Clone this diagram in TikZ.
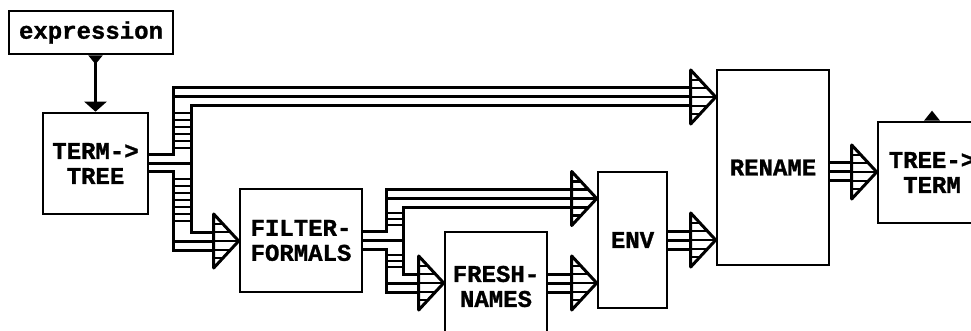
\documentclass[tikz,border=0pt]{standalone}
\usepackage{fontspec}
\setmonofont{Liberation Mono}[BoldFeatures={FakeBold=1.2}]
\usetikzlibrary{arrows.meta}

\tikzset{
  block/.style={draw, line width=2.6pt, align=center, inner sep=0pt,
    font=\ttfamily\bfseries\fontsize{24}{25}\selectfont},
  rail/.style={line width=3pt},
  rung/.style={line width=2.6pt},
}

\begin{document}
\begin{tikzpicture}[x=1pt,y=-1pt]
        \useasboundingbox (0,0) rectangle (971,331);
        \clip (0,0) rectangle (971,331);

        % Blocks
        \node[block, minimum width=164pt, minimum height=43pt] (expr) at (91,32.5) {expression};
        \node[block, minimum width=105pt, minimum height=101pt] (t2t) at (95.5,163.5) {TERM->\\TREE};
        \node[block, minimum width=122pt, minimum height=103pt] (filter) at (301,240.5) {FILTER-\\FORMALS};
        \node[block, minimum width=102pt, minimum height=109pt] (fresh) at (496,286.5) {FRESH-\\NAMES};
        \node[block, minimum width=69pt, minimum height=136pt] (env) at (632.5,240) {ENV};
        \node[block, minimum width=112pt, minimum height=195pt] (rename) at (773,167.5) {RENAME};
        \node[block, minimum width=108pt, minimum height=101pt] (tree2term) at (932,172.5) {TREE->\\TERM};

        % Single connector
        \draw[line width=2.6pt, {Triangle[reversed,width=14pt,length=9pt]}-{Triangle[width=22pt,length=10pt]}]
            (t2t.north |- expr.south) -- (t2t.north);
        \fill (tree2term.north) +(-8,0) -- +(0,-10) -- +(8,0) -- cycle;

        % Arrow tips of the buses
        \coordinate (inRenameA) at (rename.west |- 0,97);
        \coordinate (inRenameB) at (rename.west |- 0,240);
        \coordinate (inFilter) at (filter.west |- 0,241);
        \coordinate (inEnvA) at (env.west |- 0,198.5);
        \coordinate (inEnvB) at (env.west |- 0,283);
        \coordinate (inFresh) at (fresh.west |- 0,283);
        \coordinate (inTreeTerm) at (tree2term.west |- 0,172);

        % Bus out of TERM->TREE
        \draw[rail] (t2t.east |- 0,155) -- (173,155) -- (173,88) -- (692,88);
        \draw[rail] (t2t.east |- 0,172) -- (173,172) -- (173,250) -- (215,250);
        \draw[rail] (692,106) -- (191,106) -- (191,232) -- (215,232);
        \draw[rail] (173,97) -- (692,97);
        \draw[rail] (t2t.east |- 0,163.5) -- (191,163.5);
        \draw[rail] (173,241) -- (215,241);
        \foreach \y in {113,120,...,148,179,186,...,225}
            \draw[rung] (173,\y) -- (191,\y);

        % Bus out of FILTER-FORMALS
        \draw[rail] (filter.east |- 0,231) -- (386,231) -- (386,190) -- (573,190);
        \draw[rail] (filter.east |- 0,249) -- (386,249) -- (386,292) -- (420,292);
        \draw[rail] (573,207) -- (403,207) -- (403,274) -- (420,274);
        \draw[rail] (386,198.5) -- (573,198.5);
        \draw[rail] (filter.east |- 0,240) -- (403,240);
        \draw[rail] (386,283) -- (420,283);
        \foreach \y in {213,219,225,255,261,267}
            \draw[rung] (386,\y) -- (403,\y);

        % Short buses
        \foreach \y in {274,283,292}
            \draw[rail] (fresh.east |- 0,\y) -- (573,\y);
        \foreach \y in {231,240,249}
            \draw[rail] (env.east |- 0,\y) -- (692,\y);
        \foreach \y in {163,172,181}
            \draw[rail] (rename.east |- 0,\y) -- (853,\y);

        % Hollow arrowheads
        \foreach \tip in {inRenameA,inRenameB,inFilter,inEnvA,inEnvB,inFresh,inTreeTerm} {
            \begin{scope}[shift={(\tip)}]
                \draw[rail, fill=white, line join=round] (-25,-27) -- (0,0) -- (-25,27) -- cycle;
                \foreach \h in {-17,-9,0,9,17}
                    \draw[rung] (-25,\h) -- ({-25*abs(\h)/27},\h);
            \end{scope}
        }
\end{tikzpicture}
\end{document}
